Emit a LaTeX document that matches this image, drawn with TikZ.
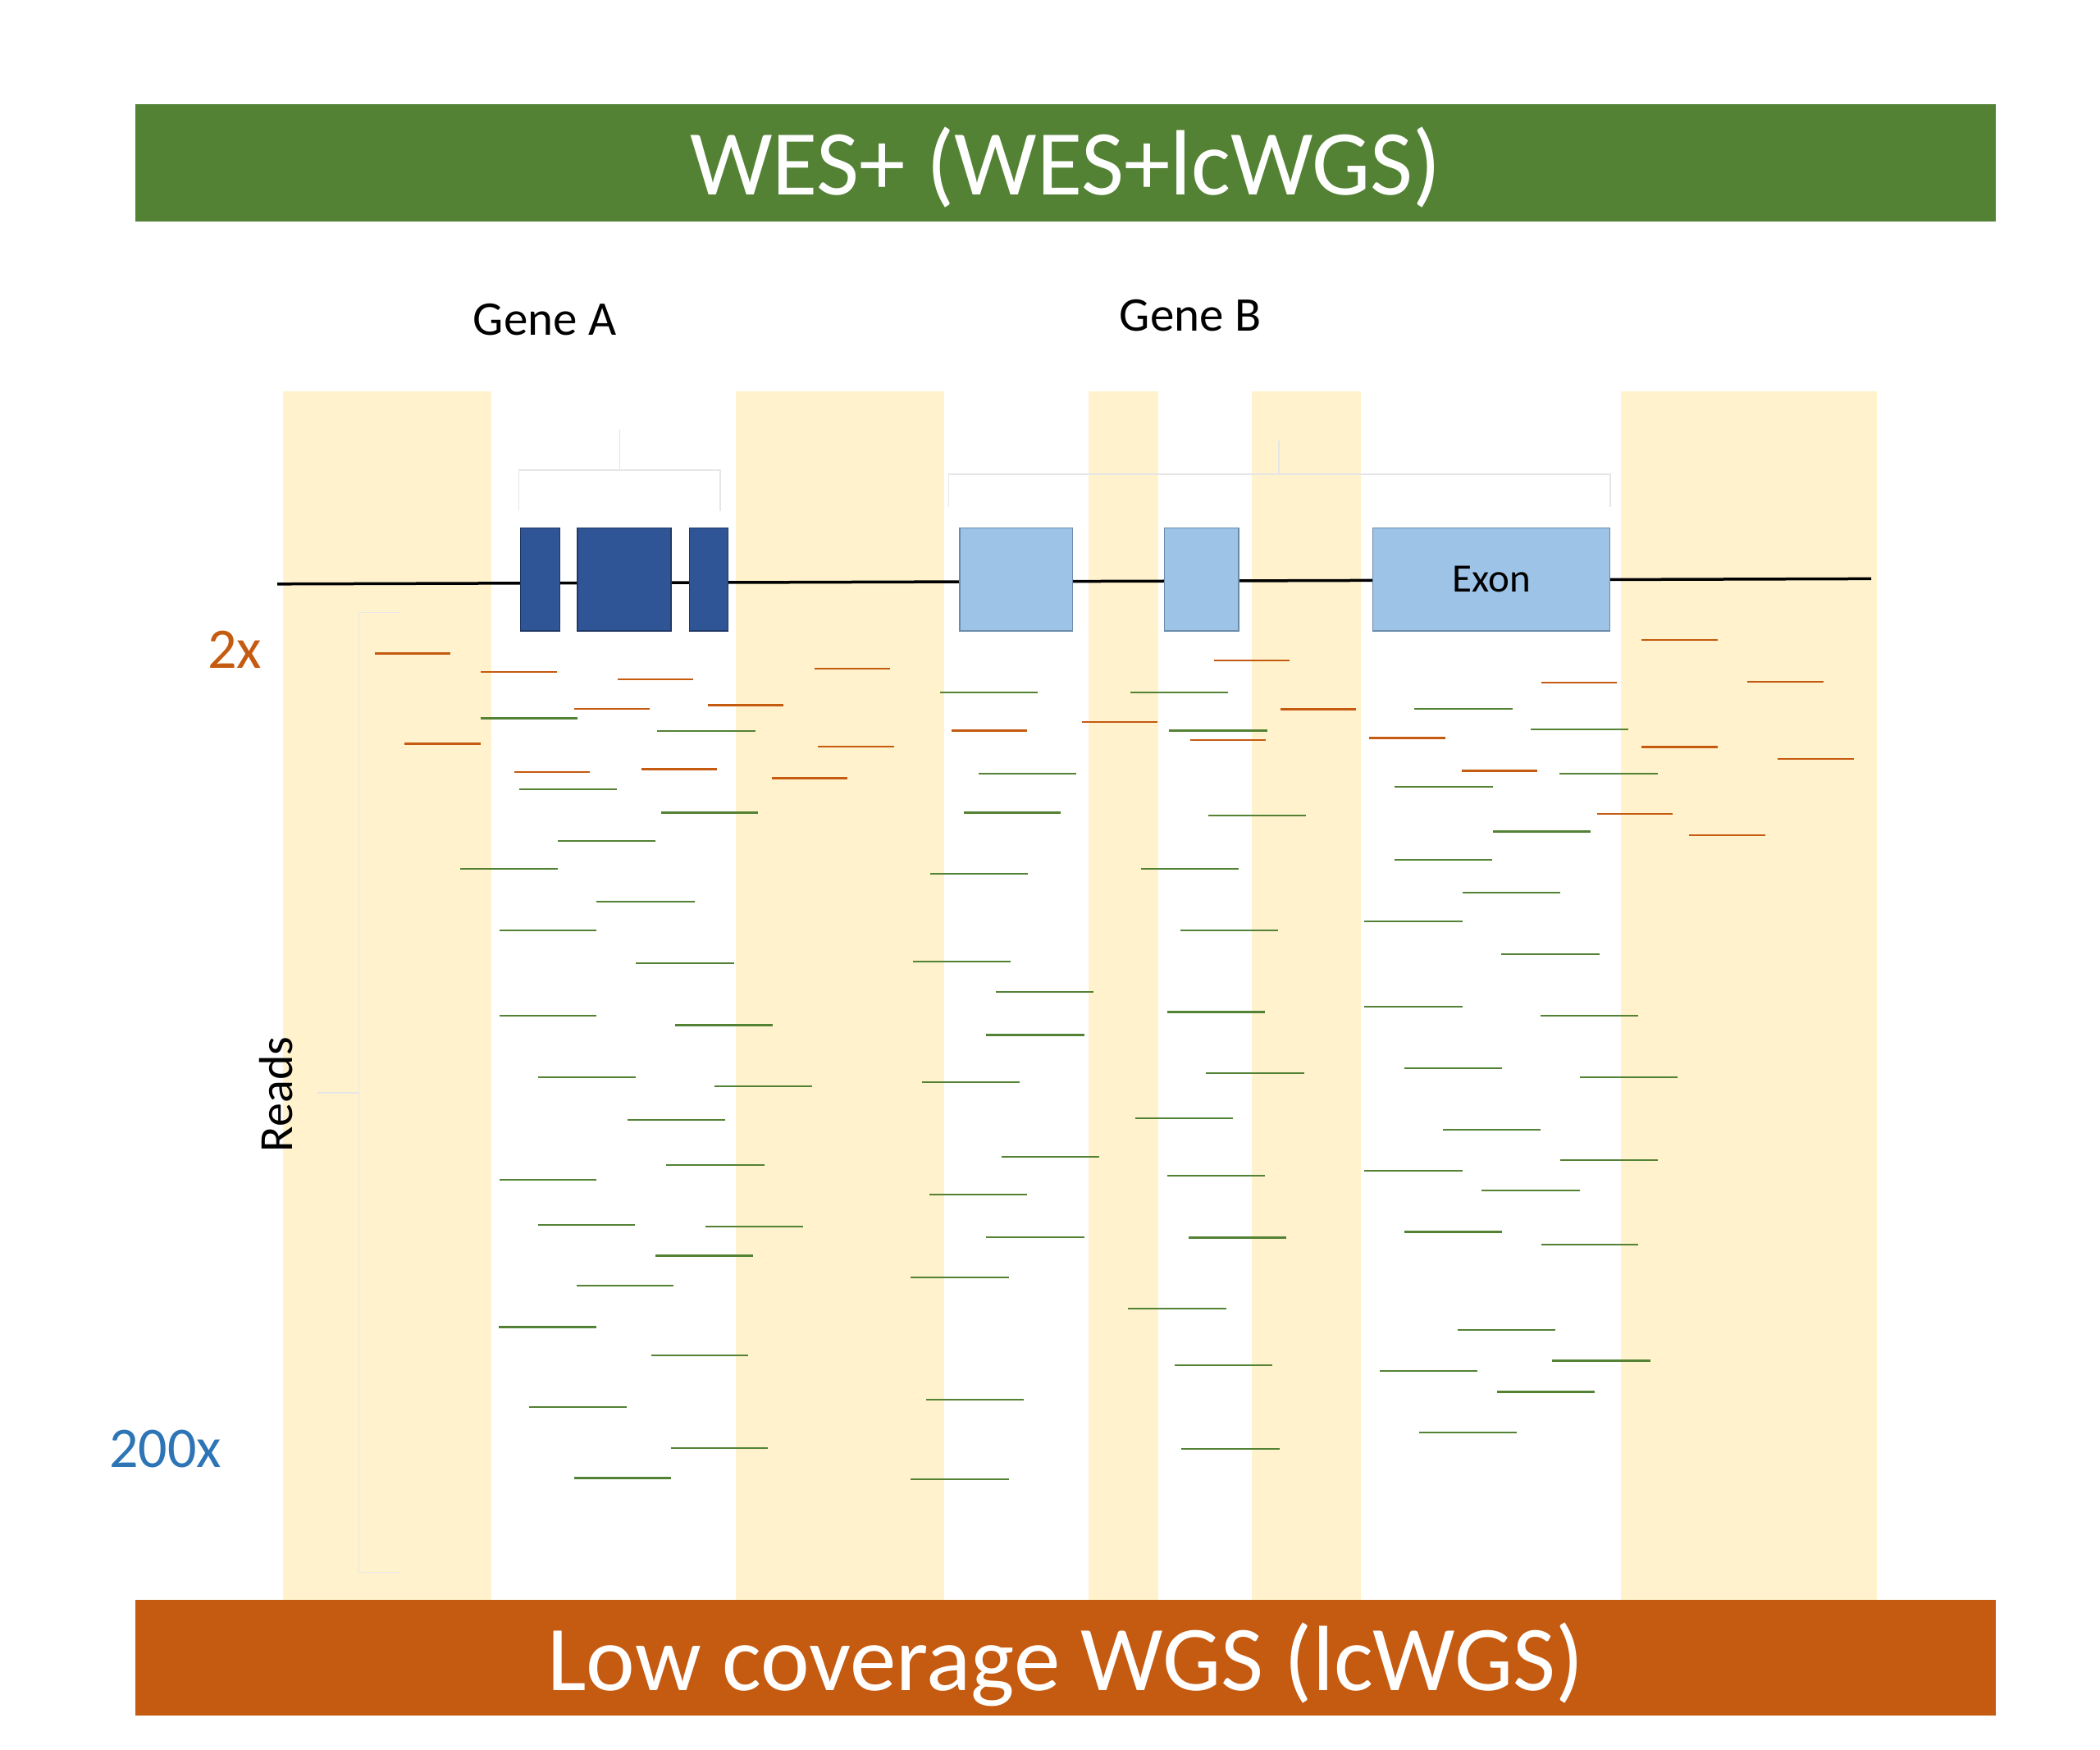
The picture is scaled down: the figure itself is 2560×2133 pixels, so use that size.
\documentclass[tikz,border=0pt]{standalone}
\usepackage{fontspec}
\setmainfont{Carlito}
\definecolor{bandgreen}{HTML}{548235}
\definecolor{bandorange}{HTML}{C55A11}
\definecolor{colyellow}{HTML}{FFF2CC}
\definecolor{exondark}{HTML}{2F5597}
\definecolor{exondarkline}{HTML}{203864}
\definecolor{exonlight}{HTML}{9DC3E6}
\definecolor{exonlightline}{HTML}{6A8BAA}
\definecolor{readorange}{HTML}{C55A11}
\definecolor{readgreen}{HTML}{548235}
\definecolor{bluelabel}{HTML}{2E75B6}
\definecolor{bracketgray}{HTML}{E6E6E6}
\tikzset{
  column/.style={fill=colyellow},
  banner/.style={anchor=base, text=white, font=\fontsize{113}{120}\selectfont},
  exonA/.style={draw=exondarkline, line width=1.2pt, fill=exondark, inner sep=0pt, minimum height=125.3pt},
  exonB/.style={draw=exonlightline, line width=1.2pt, fill=exonlight, inner sep=0pt, minimum height=125.3pt, font=\fontsize{49}{55}\selectfont},
  genelabel/.style={anchor=base, font=\fontsize{59}{65}\selectfont},
  brack/.style={draw=bracketgray, line width=1.6pt},
  oread/.style={draw=readorange, line width=2.2pt},
  gread/.style={draw=readgreen, line width=2.2pt},
}
\begin{document}
\begin{tikzpicture}[x=1pt,y=-1pt]
\useasboundingbox (0,0) rectangle (2560,2133);
\fill[white] (0,0) rectangle (2560,2133);

% banners
\fill[bandgreen] (165,127) rectangle (2433,270);
\fill[bandorange] (165,1950) rectangle (2433,2091);

% yellow columns
\fill[column] (344.6,477) rectangle (598.7,1950);
\fill[column] (897,477) rectangle (1151,1950);
\fill[column] (1327.3,477) rectangle (1411.7,1950);
\fill[column] (1526,477) rectangle (1659,1950);
\fill[column] (1976,477) rectangle (2287.5,1950);

% gene brackets
\coordinate (ba1) at (632.6,622.7);
\coordinate (ba2) at (632.6,572.7);
\coordinate (ba3) at (877.7,572.7);
\coordinate (ba4) at (877.7,622.7);
\coordinate (bas1) at (755.4,572.7);
\coordinate (bas2) at (755.4,522.7);
\draw[brack] (ba1) -- (ba2) -- (ba3) -- (ba4);
\draw[brack] (bas1) -- (bas2);
\coordinate (bb1) at (1156.3,618.3);
\coordinate (bb2) at (1156.3,577.7);
\coordinate (bb3) at (1962.8,577.7);
\coordinate (bb4) at (1962.8,618.3);
\coordinate (bbs1) at (1559.2,577.7);
\coordinate (bbs2) at (1559.2,537.3);
\draw[brack] (bb1) -- (bb2) -- (bb3) -- (bb4);
\draw[brack] (bbs1) -- (bbs2);

% reads bracket
\coordinate (rb1) at (488.3,746.4);
\coordinate (rb2) at (437.3,746.4);
\coordinate (rb3) at (437.3,1916.4);
\coordinate (rb4) at (488.3,1916.4);
\coordinate (rbm1) at (437.3,1331.8);
\coordinate (rbm2) at (387.3,1331.8);
\draw[brack] (rb1) -- (rb2) -- (rb3) -- (rb4);
\draw[brack] (rbm1) -- (rbm2);

% gene line
\coordinate (gl1) at (338,711.8);
\coordinate (gl2) at (2281,705.4);
\draw[black, line width=3.5pt] (gl1) -- (gl2);

% exons
\node[exonA, minimum width=47.3pt] (a1) at (658.45,706.35) {};
\node[exonA, minimum width=113.9pt] (a2) at (760.95,706.35) {};
\node[exonA, minimum width=47.3pt] (a3) at (863.85,706.35) {};
\node[exonB, minimum width=137.8pt] (b1) at (1238.9,706.35) {};
\node[exonB, minimum width=90.7pt] (b2) at (1464.55,706.35) {};
\node[exonB, minimum width=289.3pt] (b3) at (1818.15,706.35) {Exon};

% reads
\foreach \a/\b/\c in {456.5/549.2/796.5, 586.4/678.7/818.6, 753/844.9/827.9, 700/791.9/863.7,
  862.8/955.1/859.5, 493.2/585.5/906.4, 627/719.3/941.2, 781.7/873.9/937.4, 941/1033.2/948.4,
  992.6/1084.9/814.8, 996.8/1089.6/910.2, 1480.1/1572/805.1, 1560.9/1653.2/864.4,
  1318.6/1410.5/880.2, 1159.6/1251.5/890.5, 1450.6/1542.5/901.6, 2001.2/2093.5/780.3,
  1879/1970.9/831.6, 2130.3/2222.6/831.3, 1669.2/1762/899.5, 2001.2/2093.5/910.5,
  2167.4/2259.8/925, 1782/1873.9/939.4, 1946.5/2038.8/992.1, 2059.3/2151.6/1018.3}
  {\draw[oread] (\a,\c) -- (\b,\c);}

\foreach \a/\b/\c in {585.5/704.3/875.4, 801.3/920.5/891.2, 632.5/751.7/962.2, 805.6/924.4/990.4,
  680/799.2/1024.8, 561.2/680.4/1058.9, 727.4/846.6/1099.2, 608.6/727.4/1133.7,
  775.2/894.5/1174.3, 608.6/727.4/1238, 823.1/941.9/1249.4, 1146/1264.8/844,
  1377.6/1496.8/844, 1425.4/1544.6/890.5, 1193/1312.2/943.2, 1174.6/1293.4/990.4,
  1472.8/1592/993.9, 1134/1252.8/1065.1, 1391.2/1510.4/1059.3, 1438.7/1557.9/1133.7,
  1113/1231.9/1172.2, 1213.5/1332.7/1208.7, 1422.9/1542.1/1233.5, 1202.4/1321.6/1261.4,
  1470.3/1589.5/1307.9, 1724.3/1843.6/863.7, 1866.2/1985/888.8, 1901.3/2020.5/943.2,
  1700.4/1819.6/958.7, 1820.1/1938.9/1013.5, 1700/1819.2/1047.6, 1782.9/1902.1/1088.2,
  1663.2/1782.5/1122.7, 1830.3/1949.5/1163.3, 1663.2/1782.5/1227.3, 1877.7/1997/1238,
  1711.5/1830.7/1301.7, 656/774.8/1313.1, 870.5/989.7/1323.8, 765/884.2/1365.1,
  812.4/931.6/1420.2, 608.6/727.4/1437.8, 655.6/774.4/1493.2, 859.8/978.6/1494.6,
  798.7/917.5/1530.4, 703/821.4/1567.2, 608.2/727/1617.5, 793.6/912.4/1651.6,
  644.5/763.7/1714.6, 817.5/936.3/1764.9, 699.6/818.4/1801.4, 1123.7/1243/1319.3,
  1383.5/1502.7/1362.7, 1220.7/1340/1410.2, 1422.9/1542.1/1433.3, 1133.1/1252.4/1456,
  1202.4/1321.6/1507.7, 1448.9/1568.1/1508.4, 1110.1/1229.7/1556.6, 1375.4/1494.6/1595.1,
  1431.8/1551/1664, 1128.9/1248.1/1705.7, 1440.4/1559.6/1765.6, 1110.1/1229.7/1802.8,
  1926/2044.8/1313.1, 1759/1878.2/1376.8, 1902.1/2021.3/1414, 1663.2/1782.5/1427.1,
  1806.4/1925.6/1451.2, 1711.5/1830.7/1501.5, 1878.6/1997.4/1516.6, 1776.9/1896.1/1621.3,
  1892.3/2011.5/1658.5, 1682/1800.8/1671.3, 1824.8/1944/1696.4, 1729.5/1848.7/1746}
  {\draw[gread] (\a,\c) -- (\b,\c);}

% texts
\node[banner] (title) at (1299,237) {WES+ (WES+lcWGS)};
\node[banner] (bottom) at (1299,2060) {Low coverage WGS (lcWGS)};
\node[genelabel] (geneA) at (664,408.3) {Gene A};
\node[genelabel] (geneB) at (1451,403.3) {Gene B};
\node[anchor=base, text=bandorange, font=\fontsize{70}{76}\selectfont] (two) at (286,814.4) {2x};
\node[anchor=base, text=bluelabel, font=\fontsize{70}{76}\selectfont] (twohundred) at (201.7,1788.7) {200x};
\node[anchor=base, rotate=90, font=\fontsize{58}{64}\selectfont] (reads) at (356,1334) {Reads};
\end{tikzpicture}
\end{document}
